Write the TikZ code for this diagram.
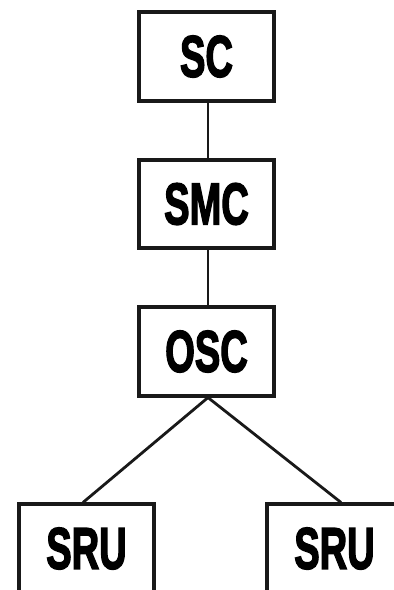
\documentclass[tikz,border=0pt]{standalone}
\usepackage{fontspec}
\usepackage{graphicx}
\newfontfamily\unitfont[BoldFeatures={FakeBold=3}]{Liberation Sans}
\tikzset{
  unitbox/.style={draw=black!90, line width=3.6pt, minimum width=135.5pt,
    minimum height=88.5pt, inner sep=0pt, fill=white,
    font=\unitfont\bfseries\fontsize{58.6}{60}\selectfont},
  link/.style={draw=black!90, line width=2.8pt}
}
\newcommand{\unitlabel}[1]{\scalebox{0.65}[1]{#1}}
\begin{document}
\begin{tikzpicture}[x=1pt,y=-1pt]
  \useasboundingbox (0,0) rectangle (394,590);
  \clip (0,0) rectangle (394,590);
  \node[unitbox] (sc)   at (206.5,56.5) {\unitlabel{SC}};
  \node[unitbox] (smc)  at (206.5,204)  {\unitlabel{SMC}};
  \node[unitbox] (osc)  at (206.5,351.5) {\unitlabel{OSC}};
  \node[unitbox] (srul) at (86.5,548.5)   {\unitlabel{SRU}};
  \node[unitbox] (srur) at (334.5,548.5)  {\unitlabel{SRU}};
  \draw[link] ([xshift=1.5pt]sc.south) -- ([xshift=1.5pt]smc.north);
  \draw[link] ([xshift=1.5pt]smc.south) -- ([xshift=1.5pt]osc.north);
  \draw[link] ([xshift=1.5pt]osc.south) -- ([xshift=-3.5pt]srul.north);
  \draw[link] ([xshift=1.5pt]osc.south) -- ([xshift=6.5pt]srur.north);
\end{tikzpicture}
\end{document}
